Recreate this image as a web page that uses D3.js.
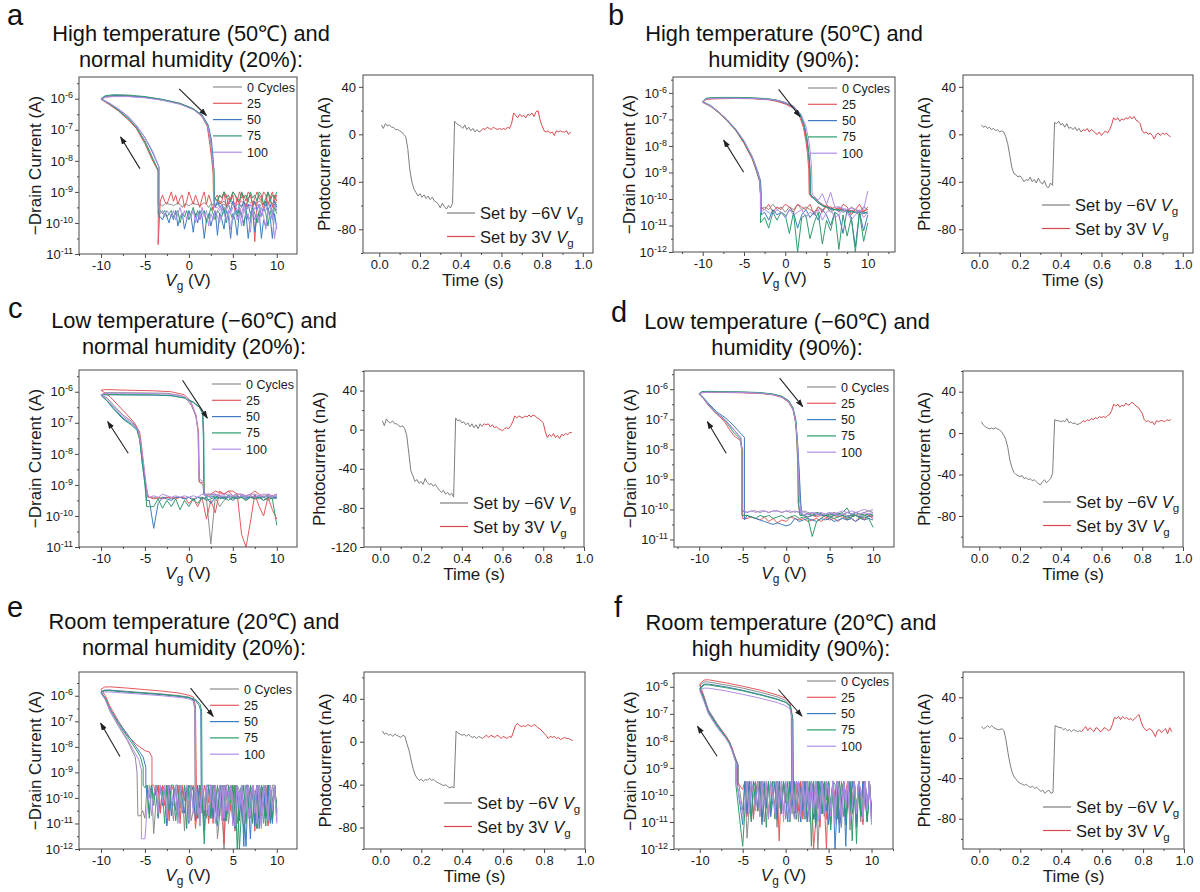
<!DOCTYPE html>
<html>
<head>
<meta charset="utf-8">
<script src="https://cdn.jsdelivr.net/npm/d3@7"></script>
<style>
body { margin: 0; background: #fff; }
</style>
</head>
<body>
<svg id="fig" width="1200" height="892"></svg>
<script>
// ---- shared ----
const cycleLabels = ["0 Cycles", "25", "50", "75", "100"];
const tStep = 0.01;     // photocurrent readings every 10 ms
const negStart = 0.01;  // "set by -6V" trace start (s)
const posStart = 0.50;  // "set by 3V" trace start (s)

// ---- panel a : 50 C / 20 % ----  values are log10(-Id); noise readings counted down from +10 V
const aStep = 0.25;
const aOn = [
  [[-3.5,-9.4],[-3.5,-8.3],[-4.2,-7.85],[-5,-7.35],[-6,-6.9],[-7,-6.6],[-8,-6.38],[-9,-6.18],[-10,-6.0],[-9.5,-5.93],[-8.5,-5.91],[-7,-5.92],[-5,-5.96],[-3,-6.04],[-1,-6.17],[0.5,-6.34],[1.5,-6.55],[2.2,-6.9],[2.5,-7.4],[2.7,-8.0],[2.8,-8.3],[2.85,-9.3]],
  [[-3.5,-10.7],[-3.45,-8.35],[-4.2,-7.95],[-5,-7.45],[-6,-6.95],[-7,-6.65],[-8,-6.4],[-9,-6.2],[-10,-6.02],[-9.5,-5.95],[-8.5,-5.9],[-7,-5.9],[-5,-5.95],[-3,-6.03],[-1,-6.15],[0.5,-6.33],[1.5,-6.58],[2.1,-6.9],[2.4,-7.5],[2.6,-7.95],[2.75,-8.4],[2.8,-9.1]],
  [[-3.4,-9.8],[-3.4,-8.2],[-4.1,-7.75],[-5,-7.25],[-6,-6.85],[-7,-6.55],[-8,-6.35],[-9,-6.15],[-10,-6.0],[-9.5,-5.92],[-8.5,-5.9],[-7,-5.91],[-5,-5.95],[-3,-6.03],[-1,-6.16],[0.5,-6.33],[1.5,-6.52],[2.2,-6.85],[2.55,-7.3],[2.75,-7.9],[2.85,-8.3],[2.9,-9.4]],
  [[-3.5,-9.7],[-3.5,-8.3],[-4.2,-7.9],[-5,-7.4],[-6,-6.92],[-7,-6.62],[-8,-6.38],[-9,-6.17],[-10,-6.0],[-9.5,-5.9],[-8.5,-5.87],[-7,-5.88],[-5,-5.93],[-3,-6.02],[-1,-6.15],[0.5,-6.32],[1.5,-6.54],[2.2,-6.88],[2.5,-7.35],[2.7,-8.0],[2.85,-8.3],[2.9,-9.2]],
  [[-3.4,-9.6],[-3.4,-8.2],[-4.1,-7.7],[-5,-7.25],[-6,-6.85],[-7,-6.55],[-8,-6.33],[-9,-6.15],[-10,-6.02],[-9.5,-5.95],[-8.5,-5.93],[-7,-5.93],[-5,-5.97],[-3,-6.05],[-1,-6.18],[0.5,-6.35],[1.5,-6.56],[2.2,-6.92],[2.5,-7.4],[2.7,-8.0],[2.8,-8.3],[2.85,-9.5]]
];
const aDown = [
  [-9.4,-9.45,-9.4,-9.35,-9.4,-9.45,-9.4,-9.4,-9.5,-9.4,-9.35,-9.4,-9.45,-9.4,-9.4,-9.35,-9.45,-9.4,-9.4,-9.5,-9.4,-9.35,-9.4,-9.45,-9.4,-9.4,-9.35,-9.4,-9.45,-9.4,-9.4,-9.5,-9.4,-9.35,-9.4,-9.45,-9.4,-9.4,-9.35,-9.4,-9.45,-9.4,-9.4,-9.5,-9.4,-9.35,-9.4,-9.45,-9.4,-9.4,-9.35,-9.4,-9.45,-9.4],
  [-9.3,-9.1,-9.5,-9.2,-9.0,-9.4,-9.6,-9.2,-9.1,-9.3,-10.6,-9.4,-9.1,-9.2,-9.5,-9.3,-9.0,-9.4,-9.2,-9.6,-9.1,-9.3,-9.2,-9.5,-9.0,-9.3,-9.4,-9.1,-9.2,-9.6,-9.3,-9.1,-9.4,-9.0,-9.2,-9.5,-9.3,-9.1,-9.4,-9.2,-9.0,-9.3,-9.5,-9.1,-9.2,-9.4,-9.1,-9.3,-9.0,-9.2,-9.4,-9.3,-9.1,-9.3],
  [-10.2,-9.7,-10.5,-9.8,-9.6,-10.1,-9.9,-10.5,-9.7,-9.8,-10.3,-9.6,-9.9,-10.5,-9.7,-10.0,-9.8,-9.6,-10.4,-9.9,-9.7,-10.5,-9.8,-9.6,-10.2,-9.9,-9.7,-10.4,-9.6,-9.8,-10.1,-9.7,-9.9,-10.5,-9.8,-9.6,-10.0,-9.7,-10.3,-9.8,-9.6,-9.9,-10.2,-9.7,-9.8,-10.1,-9.6,-9.9,-9.7,-10.0,-9.8,-9.7,-9.9,-9.8],
  [-9.7,-9.5,-9.9,-9.6,-10.1,-9.7,-9.5,-9.8,-9.6,-10.0,-9.7,-9.5,-9.8,-9.9,-9.6,-10.1,-9.7,-9.5,-9.8,-9.6,-9.9,-9.7,-9.6,-10.0,-9.5,-9.8,-9.7,-9.6,-9.9,-9.7,-9.5,-9.8,-10.0,-9.6,-9.7,-9.9,-9.6,-9.8,-9.5,-9.7,-9.9,-9.6,-9.8,-9.7,-10.0,-9.6,-9.7,-9.8,-9.6,-9.7,-9.8,-9.6,-9.7,-9.6],
  [-10.0,-10.5,-9.7,-9.9,-9.6,-10.2,-9.8,-9.5,-10.0,-9.7,-9.9,-9.6,-10.3,-9.7,-9.8,-9.5,-10.1,-9.7,-9.9,-9.6,-9.8,-10.2,-9.6,-9.9,-9.7,-9.5,-10.0,-9.8,-9.6,-9.9,-9.7,-10.1,-9.6,-9.8,-9.5,-9.9,-9.7,-10.0,-9.6,-9.8,-9.7,-9.9,-9.6,-9.8,-9.5,-9.7,-9.9,-9.6,-9.8,-9.7,-9.6,-9.8,-9.6,-9.7]
];
const aUp = [
  [-9.35,-9.3,-9.4,-9.3,-9.35,-9.3,-9.4,-9.35,-9.3,-9.35,-9.4,-9.3,-9.35,-9.3,-9.4,-9.35,-9.3,-9.35,-9.3,-9.4,-9.35,-9.3,-9.35,-9.4,-9.3,-9.35,-9.3,-9.4,-9.4],
  [-9.1,-9.3,-9.0,-9.2,-9.4,-9.1,-9.0,-9.3,-9.2,-9.0,-9.2,-9.4,-9.1,-9.0,-9.3,-9.1,-9.2,-9.0,-9.3,-9.1,-9.0,-9.2,-9.4,-9.1,-9.0,-9.2,-9.1,-9.3,-9.2],
  [-9.5,-9.3,-9.7,-9.4,-9.6,-9.3,-9.5,-9.8,-9.4,-9.6,-9.3,-9.5,-9.7,-9.4,-9.6,-9.3,-9.5,-9.4,-9.7,-9.5,-9.3,-9.6,-9.4,-9.5,-9.7,-9.4,-9.5,-9.3,-9.5],
  [-9.0,-9.2,-9.1,-9.3,-9.0,-9.2,-9.4,-9.1,-9.0,-9.3,-9.1,-9.2,-9.0,-9.3,-9.1,-9.2,-9.0,-9.3,-9.2,-9.1,-9.0,-9.3,-9.1,-9.2,-9.0,-9.2,-9.1,-9.3,-9.2],
  [-9.6,-9.4,-9.7,-9.5,-9.4,-9.6,-9.5,-9.8,-9.4,-9.6,-9.5,-9.7,-9.4,-9.5,-9.6,-9.4,-9.7,-9.5,-9.6,-9.4,-9.5,-9.7,-9.4,-9.6,-9.5,-9.4,-9.6,-9.5,-9.5]
];
const aArrows = [[[-1.1,-5.68],[2.0,-6.54]], [[-5.57,-8.25],[-7.77,-7.23]]];
const aNeg = [8,5,9,7,8,6,6,4,4,3,2,0,-2,-12,-30,-40,-46,-49,-52,-50,-53,-51,-54,-52,-55,-53,-56,-57,-59,-62,-58,-61,-63,-60,-62,-58,11,9,8,7,5,8,4,6,3,5,2,4,2,3];
const aPos = [3,5,4,6,5,4,6,5,4,5,4,5,4,6,5,9,18,16,14,17,15,16,14,17,16,18,15,19,20,12,7,3,2,3,1,2,-1,3,2,3,2,2,3,0,2];

// ---- panel b : 50 C / 90 % ----
const bStep = 0.5;
const bOn = [
  [[-3.0,-10.4],[-3.0,-9.8],[-3.1,-9.3],[-3.5,-8.9],[-4,-8.45],[-5,-7.85],[-6,-7.4],[-7,-7.05],[-8,-6.75],[-9,-6.5],[-10,-6.35],[-9.6,-6.24],[-9,-6.22],[-8,-6.2],[-6,-6.2],[-4,-6.21],[-2,-6.25],[-1,-6.3],[0,-6.4],[1,-6.55],[1.8,-6.85],[2.3,-7.3],[2.6,-7.8],[2.8,-8.3],[2.95,-8.9],[3.0,-9.8],[3.2,-9.9]],
  [[-3.0,-10.3],[-3.0,-9.8],[-3.1,-9.35],[-3.5,-8.95],[-4,-8.5],[-5,-7.9],[-6,-7.42],[-7,-7.07],[-8,-6.77],[-9,-6.52],[-10,-6.36],[-9.6,-6.25],[-9,-6.23],[-8,-6.22],[-6,-6.21],[-4,-6.22],[-2,-6.26],[-1,-6.32],[0,-6.42],[1,-6.58],[1.7,-6.85],[2.2,-7.3],[2.5,-7.8],[2.7,-8.3],[2.85,-8.9],[2.9,-9.8],[3.2,-9.95]],
  [[-2.9,-10.6],[-2.9,-9.8],[-3.0,-9.3],[-3.4,-8.9],[-4,-8.4],[-5,-7.82],[-6,-7.38],[-7,-7.03],[-8,-6.73],[-9,-6.48],[-10,-6.33],[-9.6,-6.22],[-9,-6.2],[-8,-6.19],[-6,-6.19],[-4,-6.2],[-2,-6.24],[-1,-6.29],[0,-6.38],[1,-6.52],[1.8,-6.8],[2.3,-7.25],[2.65,-7.8],[2.85,-8.3],[3.0,-8.9],[3.05,-9.8],[3.2,-9.9]],
  [[-3.0,-10.9],[-3.0,-9.8],[-3.1,-9.3],[-3.5,-8.9],[-4,-8.45],[-5,-7.86],[-6,-7.4],[-7,-7.05],[-8,-6.75],[-9,-6.5],[-10,-6.34],[-9.6,-6.2],[-9,-6.18],[-8,-6.17],[-6,-6.17],[-4,-6.18],[-2,-6.22],[-1,-6.27],[0,-6.36],[1,-6.5],[1.8,-6.78],[2.3,-7.2],[2.65,-7.75],[2.85,-8.25],[3.0,-8.9],[3.05,-9.8],[3.2,-9.9]],
  [[-3.0,-10.5],[-3.0,-9.8],[-3.1,-9.25],[-3.5,-8.85],[-4,-8.4],[-5,-7.8],[-6,-7.36],[-7,-7.02],[-8,-6.73],[-9,-6.5],[-10,-6.34],[-9.6,-6.23],[-9,-6.21],[-8,-6.2],[-6,-6.2],[-4,-6.21],[-2,-6.24],[-1,-6.28],[0,-6.36],[1,-6.5],[1.9,-6.8],[2.5,-7.25],[2.85,-7.8],[3.05,-8.3],[3.2,-8.9],[3.25,-9.8],[3.3,-9.85]]
];
const bDown = [
  [-10.4,-10.3,-10.5,-10.4,-10.3,-10.5,-10.4,-10.3,-10.4,-10.5,-10.3,-10.4,-10.3,-10.5,-10.4,-10.3,-10.4,-10.2,-10.4,-10.3,-10.5,-10.3,-10.4,-10.2,-10.4,-10.3],
  [-10.3,-10.5,-10.2,-10.4,-10.6,-10.3,-10.2,-10.5,-10.3,-10.4,-10.2,-10.5,-10.3,-10.6,-10.2,-10.4,-10.3,-10.2,-10.5,-10.3,-10.2,-10.4,-10.3,-10.5,-10.2,-10.4],
  [-10.6,-11.2,-10.5,-11.8,-10.7,-10.4,-11.3,-10.6,-10.5,-11.0,-10.6,-10.4,-10.8,-10.5,-10.7,-10.4,-10.6,-11.1,-10.5,-10.4,-10.7,-10.5,-10.6,-10.4,-10.8,-10.5],
  [-10.9,-11.6,-10.5,-12.0,-10.7,-11.4,-10.6,-11.9,-10.5,-11.2,-10.8,-11.7,-10.5,-10.9,-11.5,-10.6,-10.7,-12.0,-10.5,-11.3,-10.6,-10.5,-10.8,-10.5,-11.1,-10.7],
  [-10.5,-10.7,-10.4,-10.6,-10.8,-10.5,-10.4,-10.6,-10.7,-10.4,-10.5,-10.8,-10.4,-10.6,-10.5,-10.7,-10.4,-10.5,-10.6,-10.4,-10.7,-10.5,-10.4,-10.6,-10.5,-10.4]
];
const bUp = [
  [-10.5,-10.5,-10.45,-10.5,-10.45,-10.45,-10.4,-10.4,-10.4,-10.35,-10.3,-10.25,-10.15,-10.0],
  [-10.4,-10.45,-10.5,-10.4,-10.45,-10.4,-10.45,-10.35,-10.4,-10.3,-10.3,-10.2,-10.1,-9.95],
  [-10.5,-10.55,-10.5,-10.5,-10.45,-10.5,-10.4,-10.45,-10.4,-10.35,-10.3,-10.25,-10.1,-9.95],
  [-10.55,-10.5,-10.6,-10.5,-10.5,-10.45,-10.5,-10.4,-10.4,-10.4,-10.3,-10.25,-10.15,-10.0],
  [-9.7,-10.4,-10.45,-10.4,-10.35,-10.4,-10.35,-10.3,-10.3,-9.75,-10.2,-9.8,-10.05,-9.9]
];
const bArrows = [[[-0.8,-5.87],[1.8,-6.9]], [[-5.04,-8.99],[-7.46,-7.78]]];
const bNeg = [8,6,7,5,6,4,5,3,4,2,3,2,-2,-8,-18,-28,-33,-34,-36,-35,-37,-40,-38,-39,-36,-40,-38,-41,-37,-40,-42,-39,-44,-45,-41,-43,10,9,11,8,9,6,9,5,6,4,6,3,5,2];
const bPos = [2,4,3,5,2,4,3,1,0,2,-1,1,3,1,4,8,14,12,14,11,13,12,14,13,15,13,15,12,11,9,3,1,2,0,1,-1,-4,0,1,-1,1,0,1,-1,-2];

// ---- panel c : -60 C / 20 % ----
const cStep = 0.5;
const cOn = [
  [[-4.7,-9.4],[-4.9,-9.0],[-5.2,-8.4],[-5.5,-7.6],[-5.8,-7.2],[-6.5,-6.95],[-7.5,-6.75],[-8.5,-6.45],[-9.3,-6.2],[-10,-6.1],[-9.5,-6.03],[-8,-6.03],[-5,-6.04],[-2.5,-6.05],[-1,-6.12],[-0.3,-6.22],[0.3,-6.45],[0.8,-6.8],[1.05,-7.3],[1.15,-8.9],[1.6,-9.0],[1.7,-9.3]],
  [[-4.6,-9.4],[-4.9,-9.0],[-5.1,-8.5],[-5.4,-7.7],[-5.6,-7.3],[-6.2,-7.0],[-7,-6.75],[-8,-6.45],[-9,-6.15],[-10,-5.95],[-9.5,-5.93],[-7,-5.95],[-4,-5.97],[-2,-6.0],[-0.5,-6.1],[0.2,-6.3],[0.8,-6.75],[1.1,-7.3],[1.2,-8.9],[1.7,-8.95],[1.8,-9.3]],
  [[-4.8,-9.5],[-5.0,-8.9],[-5.3,-8.3],[-5.6,-7.5],[-5.9,-7.2],[-6.5,-7.05],[-7.5,-6.85],[-8.5,-6.55],[-9.3,-6.3],[-10,-6.1],[-9.5,-6.1],[-7,-6.1],[-4,-6.11],[-2,-6.13],[-0.5,-6.2],[0.5,-6.35],[1.2,-6.5],[1.55,-6.7],[1.65,-7.5],[1.7,-9.3]],
  [[-4.8,-9.7],[-5.0,-9.0],[-5.3,-8.3],[-5.6,-7.55],[-5.9,-7.25],[-6.5,-7.08],[-7.5,-6.88],[-8.5,-6.58],[-9.3,-6.3],[-10,-6.12],[-9.5,-6.08],[-7,-6.1],[-4,-6.1],[-2,-6.12],[-0.5,-6.2],[0.5,-6.33],[1.2,-6.5],[1.6,-6.7],[1.7,-7.4],[1.75,-9.3]],
  [[-4.7,-9.3],[-4.9,-8.9],[-5.2,-8.2],[-5.5,-7.6],[-5.8,-7.2],[-6.5,-7.0],[-7.5,-6.8],[-8.5,-6.5],[-9.3,-6.25],[-10,-6.1],[-9.5,-6.05],[-7,-6.05],[-4,-6.06],[-2,-6.08],[-0.5,-6.15],[0.3,-6.4],[0.8,-6.75],[1.05,-7.3],[1.15,-8.8],[1.65,-8.9],[1.75,-9.3]]
];
const cDown = [
  [-9.45,-9.4,-9.5,-9.4,-9.45,-9.4,-9.4,-9.5,-9.4,-9.4,-9.45,-9.4,-9.5,-9.7,-9.4,-10.9,-9.45,-9.4,-9.4,-9.45,-9.4,-9.45,-9.4,-9.4,-9.45,-9.4,-9.4,-9.45,-9.4,-9.4],
  [-10.1,-9.8,-9.4,-10.0,-9.7,-9.3,-10.2,-11.0,-10.6,-9.3,-9.2,-9.2,-9.3,-9.2,-9.9,-9.5,-10.1,-9.4,-9.7,-9.45,-9.6,-9.4,-9.4,-9.45,-9.4,-9.4,-9.45,-9.4,-9.45,-9.4],
  [-9.4,-9.45,-9.4,-9.5,-9.4,-9.45,-9.4,-9.45,-9.4,-9.4,-9.5,-9.4,-9.45,-9.4,-9.4,-9.6,-9.4,-9.45,-9.4,-9.5,-9.4,-9.45,-9.4,-9.4,-9.5,-9.45,-9.4,-9.6,-10.4,-9.5],
  [-10.3,-9.45,-9.4,-9.5,-9.4,-9.45,-9.4,-9.5,-9.4,-9.45,-9.4,-9.5,-9.4,-9.45,-9.4,-9.45,-9.5,-9.4,-9.6,-9.45,-9.7,-9.5,-9.8,-9.45,-9.7,-9.5,-9.75,-9.45,-9.7,-9.7],
  [-9.35,-9.4,-9.35,-9.4,-9.35,-9.4,-9.35,-9.4,-9.35,-9.4,-9.35,-9.4,-9.35,-9.4,-9.3,-9.4,-9.35,-9.3,-9.4,-9.35,-9.4,-9.35,-9.4,-9.35,-9.4,-9.35,-9.3,-9.4,-9.35,-9.4]
];
const cUp = [
  [-9.4,-9.35,-9.4,-9.35,-9.4,-9.4,-9.35,-9.4,-9.35,-9.4,-9.35,-9.4,-9.4,-9.35,-9.3,-9.3,-9.3],
  [-9.3,-9.35,-9.3,-9.4,-9.3,-9.2,-9.3,-9.35,-9.3,-9.3,-9.35,-9.2,-9.3,-9.25,-9.2,-9.3,-9.35],
  [-9.4,-9.4,-9.35,-9.4,-9.4,-9.35,-9.4,-9.4,-9.35,-9.4,-9.4,-9.35,-9.4,-9.4,-9.35,-9.4,-9.35],
  [-9.35,-9.4,-9.35,-9.4,-9.35,-9.4,-9.4,-9.35,-9.4,-9.35,-9.4,-9.35,-9.4,-9.35,-9.4,-9.35,-9.4],
  [-9.3,-9.35,-9.3,-9.3,-9.35,-9.3,-9.3,-9.35,-9.3,-9.3,-9.35,-9.3,-9.3,-9.35,-9.3,-9.3,-9.3]
];
const cArrows = [[[-0.72,-5.63],[2.1,-6.85]], [[-6.9,-7.98],[-9.24,-6.96]]];
const cNeg = [9,4,11,8,7,9,6,6,4,3,4,1,-6,-24,-42,-47,-53,-51,-55,-53,-56,-50,-54,-56,-55,-58,-56,-59,-62,-64,-62,-66,-64,-67,-65,-69,12,9,10,7,8,5,7,3,6,2,5,1,6,3];
const cPos = [4,6,5,6,3,5,2,3,1,0,-1,1,2,1,4,8,14,12,14,13,12,14,13,15,13,15,14,12,11,9,7,-2,-8,-5,-7,-4,-8,-6,-9,-5,-6,-4,-5,-3,-3];

// ---- panel d : -60 C / 90 % ----
const dStep = 0.5;
const dOn = [
  [[-5.1,-10.05],[-5.1,-8.2],[-5.2,-7.6],[-5.5,-7.52],[-6,-7.35],[-6.5,-7.18],[-7,-7.02],[-7.5,-6.9],[-8,-6.8],[-9,-6.5],[-9.5,-6.3],[-10,-6.15],[-9.7,-6.1],[-9,-6.09],[-7,-6.1],[-5,-6.11],[-3,-6.13],[-1.5,-6.18],[-0.5,-6.26],[0.3,-6.42],[0.8,-6.68],[1.1,-7.1],[1.3,-7.8],[1.45,-8.6],[1.55,-9.5],[1.75,-10.1]],
  [[-5.0,-10.3],[-5.0,-8.0],[-5.3,-7.7],[-6,-7.55],[-6.5,-7.35],[-7,-7.12],[-7.5,-6.95],[-8,-6.83],[-9,-6.52],[-9.5,-6.32],[-10,-6.17],[-9.7,-6.12],[-9,-6.1],[-7,-6.11],[-5,-6.12],[-3,-6.14],[-1.5,-6.19],[-0.5,-6.27],[0.3,-6.44],[0.8,-6.7],[1.1,-7.15],[1.25,-7.9],[1.35,-8.7],[1.4,-9.8],[1.6,-10.2]],
  [[-4.8,-10.35],[-4.8,-7.6],[-5.3,-7.45],[-6,-7.22],[-6.5,-7.08],[-7,-6.95],[-7.5,-6.85],[-8,-6.75],[-9,-6.45],[-9.5,-6.28],[-10,-6.14],[-9.7,-6.09],[-9,-6.08],[-7,-6.09],[-5,-6.1],[-3,-6.12],[-1.5,-6.17],[-0.5,-6.25],[0.3,-6.4],[0.8,-6.66],[1.1,-7.05],[1.3,-7.7],[1.45,-8.5],[1.6,-9.3],[1.75,-10.2]],
  [[-5.1,-10.2],[-5.1,-8.0],[-5.3,-7.65],[-6,-7.45],[-6.5,-7.25],[-7,-7.05],[-7.5,-6.92],[-8,-6.8],[-9,-6.5],[-9.5,-6.3],[-10,-6.15],[-9.7,-6.08],[-9,-6.07],[-7,-6.08],[-5,-6.09],[-3,-6.11],[-1.5,-6.16],[-0.5,-6.23],[0.3,-6.38],[0.8,-6.62],[1.1,-7.0],[1.25,-7.7],[1.35,-8.6],[1.4,-9.8],[1.6,-10.2]],
  [[-5.1,-10.0],[-5.1,-8.1],[-5.25,-7.6],[-5.6,-7.5],[-6,-7.35],[-6.5,-7.2],[-7,-7.04],[-7.5,-6.92],[-8,-6.8],[-9,-6.5],[-9.5,-6.3],[-10,-6.16],[-9.7,-6.11],[-9,-6.1],[-7,-6.1],[-5,-6.11],[-3,-6.13],[-1.5,-6.18],[-0.5,-6.26],[0.3,-6.42],[0.8,-6.68],[1.1,-7.1],[1.3,-7.8],[1.4,-8.6],[1.5,-9.6],[1.7,-10.1]]
];
const dDown = [
  [-10.1,-10.05,-10.1,-10.15,-10.1,-10.15,-10.1,-10.2,-10.15,-10.1,-10.15,-10.2,-10.15,-10.1,-10.15,-10.1,-10.05,-10.1,-10.05,-10.1,-10.05,-10.1,-10.05,-10.05,-10.1,-10.05,-10.1,-10.05,-10.05,-10.1],
  [-10.3,-10.2,-10.35,-10.25,-10.4,-10.3,-10.35,-10.25,-10.4,-10.3,-10.35,-10.3,-10.4,-10.3,-10.35,-10.4,-10.3,-10.35,-10.3,-10.25,-10.4,-10.35,-10.45,-10.3,-10.4,-10.25,-10.35,-10.3,-10.25,-10.3],
  [-10.35,-10.3,-10.35,-10.3,-10.4,-10.3,-10.35,-10.3,-10.35,-10.4,-10.3,-10.35,-10.3,-10.4,-10.35,-10.3,-10.35,-10.4,-10.3,-10.5,-10.55,-10.5,-10.45,-10.5,-10.45,-10.4,-10.35,-10.3,-10.25,-10.2],
  [-10.6,-10.3,-10.25,-10.3,-10.2,-10.25,-10.3,-10.2,-10.25,-10.3,-10.25,-10.2,-10.3,-10.4,-10.9,-10.3,-10.25,-10.3,-10.2,-10.25,-10.3,-10.2,-10.25,-10.3,-10.2,-10.25,-10.2,-10.3,-10.25,-10.2],
  [-10.0,-10.05,-10.0,-10.05,-10.1,-10.05,-10.1,-10.05,-10.1,-10.15,-10.1,-10.15,-10.1,-10.15,-10.1,-10.15,-10.1,-10.05,-10.1,-10.05,-10.05,-10.1,-10.05,-10.05,-10.1,-10.05,-10.05,-10.1,-10.05,-10.1]
];
const dUp = [
  [-10.15,-10.2,-10.15,-10.2,-10.15,-10.2,-10.2,-10.15,-10.2,-10.15,-10.2,-10.2,-10.15,-10.2,-10.2,-10.15,-10.2],
  [-10.25,-10.2,-10.3,-10.25,-10.2,-10.25,-10.3,-10.2,-10.25,-10.2,-10.3,-10.25,-10.2,-10.25,-10.2,-10.25,-10.2],
  [-10.2,-10.25,-10.2,-10.25,-10.2,-10.2,-10.25,-10.2,-10.15,-10.2,-10.25,-10.2,-10.2,-10.15,-10.2,-10.25,-10.2],
  [-10.2,-10.15,-10.2,-10.15,-10.1,-10.2,-9.95,-10.1,-10.15,-10.2,-10.15,-10.2,-10.15,-10.1,-10.2,-10.15,-10.2],
  [-10.1,-10.15,-10.1,-10.15,-10.1,-10.15,-10.1,-10.15,-10.2,-10.15,-10.1,-10.15,-10.2,-10.15,-10.1,-10.15,-10.2]
];
const dArrows = [[[-0.75,-5.63],[1.9,-6.58]], [[-6.9,-8.13],[-9.06,-7.08]]];
const dNeg = [11,8,6,5,4,5,4,5,4,3,1,-2,-6,-14,-26,-33,-38,-40,-41,-42,-41,-44,-43,-45,-44,-46,-45,-47,-49,-50,-47,-45,-48,-46,-44,-39,13,12,12,11,12,11,14,10,11,9,10,8,9,10];
const dPos = [10,12,11,13,12,14,13,15,14,16,15,16,15,17,18,22,28,26,28,25,27,26,29,27,28,30,28,26,25,22,19,13,11,12,10,11,8,12,11,12,12,11,13,12,13];

// ---- panel e : 20 C / 20 % ----
const eStep = 0.25;
const eOn = [
  [[-5.8,-10.7],[-5.9,-9.0],[-6.1,-8.4],[-7,-7.75],[-8,-7.2],[-9,-6.6],[-9.5,-6.15],[-10,-5.9],[-9.6,-5.8],[-9,-5.78],[-7,-5.83],[-5,-5.88],[-3,-5.93],[-1,-6.0],[0,-6.05],[0.5,-6.15],[0.65,-6.5],[0.7,-9.5],[0.8,-10.4]],
  [[-4.2,-9.5],[-4.2,-8.4],[-4.5,-8.2],[-5,-8.15],[-6,-7.9],[-7,-7.55],[-8,-7.0],[-9,-6.4],[-9.5,-6.0],[-10,-5.75],[-9.6,-5.66],[-9,-5.65],[-7,-5.7],[-5,-5.76],[-3,-5.82],[-1,-5.9],[0,-5.98],[0.5,-6.05],[0.75,-6.4],[0.85,-9.5]],
  [[-4.9,-9.5],[-4.9,-8.8],[-5.2,-8.4],[-6,-8.0],[-7,-7.5],[-8,-7.05],[-9,-6.5],[-9.5,-6.1],[-10,-5.85],[-9.6,-5.78],[-9,-5.78],[-7,-5.85],[-5,-5.9],[-3,-5.96],[-1,-6.03],[0,-6.08],[0.8,-6.2],[1.2,-6.4],[1.35,-6.6],[1.4,-9.5],[1.7,-10.5]],
  [[-5.2,-9.5],[-5.2,-8.8],[-5.5,-8.4],[-6,-8.1],[-7,-7.6],[-8,-7.1],[-9,-6.5],[-9.5,-6.1],[-10,-5.85],[-9.6,-5.8],[-9,-5.8],[-7,-5.86],[-5,-5.9],[-3,-5.95],[-1,-6.02],[0,-6.07],[0.8,-6.15],[1.3,-6.35],[1.45,-6.6],[1.5,-9.5],[1.8,-10.6]],
  [[-5.4,-11.6],[-5.4,-8.9],[-5.7,-8.5],[-6.2,-8.2],[-7,-7.7],[-8,-7.15],[-9,-6.55],[-9.5,-6.15],[-10,-5.9],[-9.6,-5.85],[-9,-5.85],[-7,-5.9],[-5,-5.95],[-3,-6.0],[-1,-6.07],[0,-6.12],[0.5,-6.2],[0.7,-6.5],[0.75,-9.5]]
];
const eDown = [
  [-10.4,-9.5,-9.5,-10.9,-10.2,-9.5,-11.0,-9.8,-9.5,-10.6,-10.8,-9.5,-10.1,-9.5,-9.5,-11.2,-10.5,-9.7,-9.5,-10.9,-9.5,-10.3,-11.0,-9.5,-9.9,-9.5,-10.7,-11.6,-9.5,-10.2,-9.5,-9.5,-10.8,-10.0,-9.5,-11.1,-9.6,-9.5,-10.5,-10.9,-9.5,-9.8,-11.3,-9.5,-10.4,-9.5,-9.5,-10.9,-10.1,-9.5,-11.0,-9.7,-9.5,-10.6,-9.5,-10.2,-11.4,-9.5,-10.0,-9.5,-10.8,-10.5,-10.7],
  [-10.9,-9.5,-10.3,-9.5,-11.1,-9.6,-9.5,-10.7,-10.0,-9.5,-11.3,-9.5,-9.8,-10.6,-9.5,-10.9,-9.5,-10.2,-11.0,-9.5,-9.7,-10.5,-9.5,-9.5,-11.8,-10.1,-9.5,-10.8,-9.5,-10.4,-9.5,-11.0,-9.9,-9.5,-10.6,-9.5,-10.3,-11.2,-9.5,-9.8,-10.7,-9.5,-10.1,-9.5,-11.0,-9.5,-10.5,-9.7,-9.5,-10.9,-9.5,-10.3,-9.5,-10.6,-9.5,-9.9,-9.5],
  [-10.6,-9.5,-11.0,-10.2,-9.5,-10.8,-9.5,-9.9,-11.2,-9.5,-10.4,-9.5,-11.6,-10.0,-9.5,-11.9,-9.5,-10.7,-9.5,-10.3,-11.0,-9.5,-9.8,-10.9,-9.5,-10.5,-9.5,-11.1,-10.2,-9.5,-10.8,-9.6,-9.5,-11.3,-9.5,-10.4,-9.5,-10.9,-9.7,-9.5,-11.0,-9.5,-10.6,-10.1,-9.5,-10.8,-9.5,-9.9,-10.7,-9.5,-11.1,-9.5,-10.3,-9.5,-10.8,-9.5,-10.0,-9.5,-10.6],
  [-10.5,-9.5,-10.8,-9.6,-9.5,-11.1,-10.3,-9.5,-10.7,-9.5,-9.9,-11.0,-9.5,-10.4,-9.5,-11.4,-9.5,-10.1,-12.0,-9.5,-10.6,-9.5,-9.8,-10.9,-9.5,-10.5,-9.5,-11.0,-10.2,-9.5,-10.7,-9.5,-9.5,-11.8,-10.0,-9.5,-10.8,-9.5,-10.4,-9.7,-9.5,-11.2,-9.5,-10.6,-9.5,-10.1,-10.9,-9.5,-9.5,-10.5,-9.5,-11.0,-9.8,-9.5,-10.7,-9.5,-10.3,-9.5,-10.8,-9.5,-9.6],
  [-11.0,-9.5,-10.4,-9.5,-10.9,-9.7,-9.5,-11.2,-10.1,-9.5,-10.6,-9.5,-9.9,-10.8,-9.5,-11.0,-9.5,-10.3,-9.5,-10.7,-11.1,-9.5,-9.8,-10.5,-9.5,-10.9,-9.5,-10.2,-11.0,-9.5,-9.6,-10.7,-9.5,-10.4,-9.5,-11.1,-10.0,-9.5,-10.6,-9.5,-10.9,-9.5,-9.8,-10.5,-9.5,-11.0,-9.5,-10.3,-9.7,-9.5,-10.8,-9.5,-10.2,-9.5,-10.6,-9.5,-9.9,-10.7,-9.5,-10.4,-11.6]
];
const eUp = [
  [-10.5,-9.5,-10.9,-10.1,-9.5,-10.7,-9.5,-11.1,-9.8,-9.5,-10.4,-9.5,-10.8,-9.5,-10.2,-11.3,-9.5,-10.6,-9.5,-9.9,-11.0,-9.5,-10.5,-9.5,-12.0,-10.3,-9.5,-10.8,-9.5,-10.1,-9.5,-10.9,-9.7,-10.5,-9.5,-10.6,-10.8],
  [-10.8,-9.5,-10.4,-9.5,-11.0,-9.9,-9.5,-10.6,-9.5,-11.2,-10.3,-9.5,-10.7,-9.5,-9.8,-10.9,-9.5,-10.5,-9.5,-11.3,-10.0,-9.5,-10.6,-9.5,-10.9,-9.7,-9.5,-10.4,-9.5,-11.0,-9.5,-10.2,-9.5,-10.7,-9.5,-10.5,-10.6],
  [-10.6,-9.5,-10.2,-11.0,-9.5,-10.7,-9.5,-9.9,-10.8,-9.5,-11.1,-9.5,-10.4,-9.5,-11.9,-10.3,-9.5,-10.9,-9.5,-11.2,-9.7,-9.5,-10.6,-9.5,-10.9,-10.1,-9.5,-10.5,-9.5,-10.8,-9.5,-10.6,-10.5],
  [-10.7,-9.5,-10.3,-9.5,-10.9,-9.8,-9.5,-10.5,-9.5,-11.2,-10.1,-9.5,-10.6,-9.5,-11.0,-9.5,-10.4,-12.0,-9.5,-10.8,-9.5,-10.2,-9.5,-10.9,-9.6,-9.5,-10.7,-9.5,-10.4,-9.5,-10.8,-10.6,-10.7],
  [-10.9,-9.5,-10.5,-9.5,-10.8,-10.1,-9.5,-10.6,-9.5,-11.0,-9.8,-9.5,-10.7,-9.5,-10.3,-10.9,-9.5,-10.5,-9.5,-11.1,-10.0,-9.5,-10.6,-9.5,-10.8,-9.5,-10.2,-10.9,-9.5,-10.4,-9.5,-10.7,-9.5,-10.5,-9.5,-10.6,-10.6]
];
const eArrows = [[[0.19,-5.7],[2.77,-6.81]], [[-7.84,-8.38],[-10.04,-7.07]]];
const eNeg = [10,7,8,6,7,5,7,6,5,4,6,5,-2,-8,-17,-25,-31,-34,-36,-35,-37,-35,-36,-34,-36,-35,-37,-38,-39,-40,-41,-40,-42,-43,-42,-43,10,8,7,6,7,5,7,5,4,5,3,5,4,3];
const ePos = [3,5,6,4,6,5,4,6,5,3,5,4,3,5,4,9,15,17,15,14,15,14,16,15,14,16,15,13,12,10,8,6,3,5,4,5,3,4,2,3,4,3,3,2,1];

// ---- panel f : 20 C / 90 % ----
const fStep = 0.25;
const fOn = [
  [[-5.5,-9.5],[-5.5,-8.9],[-6.0,-8.5],[-6.5,-8.05],[-7,-7.8],[-8,-7.35],[-9,-6.85],[-9.5,-6.35],[-10,-5.95],[-9.5,-5.82],[-9,-5.82],[-7,-5.93],[-5,-6.05],[-3,-6.2],[-1,-6.37],[0,-6.5],[0.5,-6.65],[0.65,-7.0],[0.7,-9.5]],
  [[-5.7,-9.5],[-5.7,-8.8],[-6.2,-8.3],[-6.6,-8.0],[-7,-7.8],[-8,-7.4],[-9,-6.9],[-9.5,-6.4],[-10,-5.9],[-9.5,-5.75],[-9,-5.74],[-7,-5.85],[-5,-5.98],[-3,-6.12],[-1,-6.3],[0,-6.42],[0.5,-6.6],[0.7,-6.9],[0.75,-9.5]],
  [[-5.6,-9.7],[-5.6,-8.9],[-6.1,-8.45],[-6.5,-8.1],[-7,-7.85],[-8,-7.4],[-9,-6.9],[-9.5,-6.45],[-10,-6.05],[-9.5,-5.9],[-9,-5.9],[-7,-6.0],[-5,-6.13],[-3,-6.28],[-1,-6.45],[0,-6.57],[0.5,-6.7],[0.8,-7.1],[0.85,-9.6]],
  [[-5.8,-9.6],[-5.8,-8.8],[-6.2,-8.4],[-6.6,-8.05],[-7,-7.85],[-8,-7.45],[-9,-6.95],[-9.5,-6.5],[-10,-6.1],[-9.5,-5.93],[-9,-5.93],[-7,-6.03],[-5,-6.15],[-3,-6.3],[-1,-6.47],[0,-6.58],[0.5,-6.72],[0.85,-7.2],[0.9,-9.6]],
  [[-5.7,-9.6],[-5.7,-8.9],[-6.2,-8.4],[-6.6,-8.1],[-7,-7.9],[-8,-7.5],[-9,-7.0],[-9.5,-6.55],[-10,-6.15],[-9.5,-6.05],[-9,-6.05],[-7,-6.15],[-5,-6.28],[-3,-6.42],[-1,-6.58],[0,-6.7],[0.5,-6.82],[0.75,-7.2],[0.8,-9.6]]
];
const fDown = [
  [-10.7,-9.5,-10.9,-10.2,-9.5,-11.0,-9.5,-10.5,-9.8,-9.5,-11.3,-9.5,-10.6,-9.5,-10.1,-10.9,-9.5,-10.4,-9.5,-11.1,-9.7,-9.5,-10.8,-9.5,-10.3,-12.0,-9.5,-10.6,-9.5,-10.0,-10.9,-9.5,-10.5,-9.5,-11.0,-9.8,-9.5,-10.7,-9.5,-10.2,-10.9,-9.5,-10.4,-9.5,-11.2,-9.6,-9.5,-10.8,-9.5,-10.3,-11.0,-9.5,-10.6,-9.5,-9.9,-10.8,-9.5,-10.5,-11.6,-9.5,-10.6],
  [-10.9,-9.5,-10.5,-9.5,-11.1,-10.0,-9.5,-10.7,-9.5,-10.3,-10.9,-9.5,-9.8,-10.8,-9.5,-11.0,-9.5,-10.4,-9.5,-10.7,-9.5,-12.0,-10.2,-9.5,-11.2,-9.5,-10.6,-9.5,-10.0,-10.8,-9.5,-10.6,-9.5,-11.0,-9.7,-9.5,-10.5,-9.5,-10.9,-10.1,-9.5,-10.7,-9.5,-11.7,-9.5,-10.4,-9.9,-9.5,-10.8,-9.5,-10.2,-11.0,-9.5,-10.6,-9.5,-10.9,-9.6,-9.5,-10.8,-9.5,-9.8],
  [-10.8,-9.5,-11.0,-9.7,-9.5,-10.7,-9.5,-11.2,-10.1,-9.5,-10.6,-9.5,-11.9,-9.5,-10.4,-11.4,-9.5,-10.8,-9.5,-10.2,-11.1,-9.5,-9.9,-10.7,-9.5,-10.5,-9.5,-10.9,-9.5,-10.3,-11.0,-9.5,-10.6,-9.8,-9.5,-10.8,-9.5,-10.4,-9.5,-11.0,-10.0,-9.5,-10.7,-9.5,-10.9,-9.5,-10.2,-10.8,-9.5,-10.5,-9.5,-11.1,-9.5,-10.6,-9.7,-9.5,-10.9,-9.5,-10.7,-9.5,-11.1],
  [-10.6,-9.5,-11.0,-9.5,-10.3,-10.8,-9.5,-11.8,-9.5,-10.7,-9.9,-9.5,-11.1,-9.5,-10.5,-9.5,-10.6,-10.9,-9.5,-11.3,-9.5,-10.2,-9.5,-10.7,-9.8,-9.5,-10.9,-9.5,-11.9,-9.5,-10.4,-10.9,-9.5,-10.6,-9.5,-10.8,-9.6,-9.5,-11.0,-9.5,-10.3,-9.5,-10.7,-10.0,-9.5,-10.9,-9.5,-10.5,-9.5,-11.2,-9.7,-9.5,-10.8,-9.5,-10.4,-9.5,-11.0,-10.2,-9.5,-10.6,-11.9],
  [-11.0,-9.5,-10.6,-9.5,-10.9,-9.8,-9.5,-10.7,-9.5,-10.4,-11.0,-9.5,-10.2,-9.5,-10.8,-9.7,-9.5,-11.1,-9.5,-10.5,-9.9,-9.5,-10.6,-9.5,-10.9,-10.1,-9.5,-10.7,-9.5,-11.0,-9.5,-10.3,-9.5,-10.8,-9.6,-9.5,-10.6,-9.5,-10.9,-10.2,-9.5,-11.0,-9.5,-10.5,-9.5,-10.7,-9.8,-9.5,-10.9,-9.5,-10.4,-9.5,-10.8,-9.5,-10.6,-10.0,-9.5,-10.7,-9.5,-10.5,-10.7]
];
const fUp = [
  [-10.8,-9.5,-10.4,-9.5,-11.0,-9.9,-9.5,-10.7,-9.5,-10.3,-10.9,-9.5,-10.6,-9.5,-11.2,-9.7,-9.5,-10.5,-9.5,-10.8,-10.1,-9.5,-10.6,-9.5,-10.9,-9.5,-11.0,-10.3,-9.5,-10.7,-9.5,-10.4,-9.5,-10.8,-9.6,-10.5,-10.7],
  [-10.6,-9.5,-10.9,-10.2,-9.5,-10.7,-9.5,-11.0,-9.5,-10.4,-9.8,-9.5,-10.8,-9.5,-10.6,-11.1,-9.5,-10.3,-9.5,-10.7,-9.5,-10.9,-9.7,-9.5,-10.5,-9.5,-11.0,-12.0,-9.5,-10.6,-9.5,-10.2,-10.9,-9.5,-10.6,-9.5,-10.8],
  [-10.9,-9.5,-10.5,-9.5,-10.8,-10.0,-9.5,-11.1,-9.5,-10.6,-9.5,-10.3,-11.0,-9.5,-10.7,-9.5,-10.4,-12.0,-9.5,-10.8,-9.5,-10.6,-9.8,-9.5,-10.9,-9.5,-11.2,-10.2,-9.5,-10.7,-9.5,-10.5,-9.5,-11.0,-9.7,-10.6,-10.7],
  [-10.7,-9.5,-11.0,-9.5,-10.4,-10.8,-9.5,-10.6,-9.5,-11.7,-9.5,-10.2,-10.8,-9.5,-10.5,-9.5,-10.9,-9.6,-9.5,-11.0,-10.3,-9.5,-10.7,-9.5,-10.6,-9.5,-11.1,-9.9,-9.5,-10.5,-9.5,-10.8,-9.5,-10.4,-9.5,-10.9,-10.8],
  [-11.1,-9.5,-10.6,-9.5,-10.8,-9.9,-9.5,-10.7,-9.5,-10.4,-11.0,-9.5,-10.5,-9.5,-10.9,-10.1,-9.5,-10.6,-9.5,-10.8,-9.7,-9.5,-10.7,-9.5,-10.4,-11.0,-9.5,-10.6,-9.5,-10.3,-9.5,-10.8,-9.5,-10.6,-9.5,-10.7,-10.9]
];
const fArrows = [[[-0.84,-6.1],[1.9,-7.09]], [[-7.98,-8.57],[-10.27,-7.46]]];
const fNeg = [11,9,10,12,10,12,10,9,8,8,9,7,-2,-15,-26,-34,-39,-41,-44,-45,-46,-47,-46,-48,-49,-48,-50,-49,-51,-53,-52,-55,-53,-52,-55,-54,12,11,10,10,8,9,7,8,6,8,7,6,7,6];
const fPos = [6,9,11,7,10,8,6,10,9,6,7,10,9,7,8,13,20,19,21,18,21,19,20,18,19,17,19,21,23,16,11,8,7,9,8,5,1,7,8,5,7,9,4,10,6];

// ---- styles / layout ----
const cycleColors = ["#8c8c8c", "#e4585c", "#3d7cc0", "#2f9d6c", "#b28de6"];
const negColor = "#7d7d7d", posColor = "#d8484c";
const frameColor = "#4a4a4a", inkColor = "#1a1a1a";
const fontFamily = "'Liberation Sans', Arial, Helvetica, sans-serif";

const panels = [
  { letter: "a", lx: 7, ly: 25, title: ["High temperature (50℃) and", "normal humidity (20%):"], tx: 191, ty: 41,
    on: aOn, down: aDown, up: aUp, step: aStep, arrows: aArrows, neg: aNeg, pos: aPos,
    tBox: { x0: 79, x1: 297, y0: 77, y1: 254 }, tV: [-12.5, 12.3], tLog: [-11, -5.3], tLeg: [134, 10],
    pBox: { x0: 363, x1: 593, y0: 75, y1: 253 }, pT: [-0.08, 1.05], pI: [-100, 50], pLeg: [84, -40], pTitleDx: -33 },
  { letter: "b", lx: 608, ly: 25, title: ["High temperature (50℃) and", "humidity (90%):"], tx: 784, ty: 41,
    on: bOn, down: bDown, up: bUp, step: bStep, arrows: bArrows, neg: bNeg, pos: bPos,
    tBox: { x0: 673, x1: 895, y0: 77, y1: 252 }, tV: [-13.6, 13.3], tLog: [-12, -5.4], tLeg: [135, 11],
    pBox: { x0: 963, x1: 1193, y0: 75, y1: 253 }, pT: [-0.08, 1.05], pI: [-100, 50], pLeg: [79, -48], pTitleDx: -33 },
  { letter: "c", lx: 8, ly: 318, title: ["Low temperature (−60℃) and", "normal humidity (20%):"], tx: 194, ty: 328,
    on: cOn, down: cDown, up: cUp, step: cStep, arrows: cArrows, neg: cNeg, pos: cPos,
    tBox: { x0: 79, x1: 297, y0: 370, y1: 547 }, tV: [-12.5, 12.3], tLog: [-11, -5.3], tLeg: [133, 14],
    pBox: { x0: 364, x1: 584, y0: 371, y1: 547 }, pT: [-0.08, 1.0], pI: [-120, 60], pLeg: [76, -44], pTitleDx: -39 },
  { letter: "d", lx: 611, ly: 322, title: ["Low temperature (−60℃) and", "humidity (90%):"], tx: 787, ty: 329,
    on: dOn, down: dDown, up: dUp, step: dStep, arrows: dArrows, neg: dNeg, pos: dPos,
    tBox: { x0: 674, x1: 894, y0: 370, y1: 547 }, tV: [-12.9, 12.4], tLog: [-11.25, -5.36], tLeg: [133, 17],
    pBox: { x0: 963, x1: 1183, y0: 371, y1: 547 }, pT: [-0.08, 1.0], pI: [-110, 60], pLeg: [80, -45], pTitleDx: -33 },
  { letter: "e", lx: 7, ly: 617, title: ["Room temperature (20℃) and", "normal humidity (20%):"], tx: 194, ty: 629,
    on: eOn, down: eDown, up: eUp, step: eStep, arrows: eArrows, neg: eNeg, pos: ePos,
    tBox: { x0: 79, x1: 297, y0: 672, y1: 849 }, tV: [-12.5, 12.3], tLog: [-12, -5.07], tLeg: [131, 17],
    pBox: { x0: 364, x1: 585, y0: 672, y1: 849 }, pT: [-0.08, 1.0], pI: [-100, 65], pLeg: [80, -46], pTitleDx: -33 },
  { letter: "f", lx: 614, ly: 617, title: ["Room temperature (20℃) and", "high humidity (90%):"], tx: 791, ty: 630,
    on: fOn, down: fDown, up: fUp, step: fStep, arrows: fArrows, neg: fNeg, pos: fPos,
    tBox: { x0: 674, x1: 893, y0: 673, y1: 849 }, tV: [-13, 12.5], tLog: [-12, -5.49], tLeg: [133, 8],
    pBox: { x0: 963, x1: 1184, y0: 672, y1: 849 }, pT: [-0.08, 1.0], pI: [-110, 65], pLeg: [80, -42], pTitleDx: -33 }
];

const svg = d3.select("#fig").attr("font-family", fontFamily);
const defs = svg.append("defs");
defs.append("marker")
  .attr("id", "arrowHead")
  .attr("viewBox", "0 0 10 7")
  .attr("refX", 9).attr("refY", 3.5)
  .attr("markerWidth", 8).attr("markerHeight", 5.6)
  .attr("markerUnits", "userSpaceOnUse")
  .attr("orient", "auto")
  .append("path").attr("d", "M0,0L10,3.5L0,7z").attr("fill", "#222");

function styleAxis(sel, size) {
  sel.select(".domain").remove();
  sel.selectAll(".tick line").attr("stroke", frameColor);
  sel.selectAll(".tick text").attr("fill", inkColor).attr("font-size", size || 13);
}

function frameAndClip(g, b, id) {
  defs.append("clipPath").attr("id", id).append("rect")
    .attr("x", b.x0).attr("y", b.y0).attr("width", b.x1 - b.x0).attr("height", b.y1 - b.y0);
  g.append("rect").attr("x", b.x0).attr("y", b.y0).attr("width", b.x1 - b.x0).attr("height", b.y1 - b.y0)
    .attr("fill", "none").attr("stroke", frameColor).attr("stroke-width", 1);
}

function vgLabel(g, x, y, size, text) {
  const t = g.append("text").attr("x", x).attr("y", y).attr("font-size", size).attr("fill", inkColor);
  if (text) t.append("tspan").text(text);
  t.append("tspan").attr("font-style", "italic").text("V");
  t.append("tspan").attr("font-size", size * 0.7).attr("dy", 4).text("g");
  return t;
}

function drawTransfer(p) {
  const b = p.tBox;
  const g = svg.append("g");
  const x = d3.scaleLinear().domain(p.tV).range([b.x0, b.x1]);
  const y = d3.scaleLog().domain([10 ** p.tLog[0], 10 ** p.tLog[1]]).range([b.y1, b.y0]);
  const clipId = "clipT" + p.letter;

  const line = d3.line().x(d => x(d[0])).y(d => y(10 ** d[1]));
  const curves = g.append("g").attr("clip-path", `url(#${clipId})`);
  p.on.forEach((on, i) => {
    // sweep +10 V -> -10 V (noise floor, then turn-on), then back to +10 V
    const pts = p.down[i].map((v, k) => [10 - k * p.step, v])
      .concat(on)
      .concat(p.up[i].map((v, k) => [10 - k * p.step, v]).reverse());
    curves.append("path").attr("d", line(pts))
      .attr("fill", "none").attr("stroke", cycleColors[i]).attr("stroke-width", 1);
  });
  frameAndClip(g, b, clipId);

  // x axis
  const xMajor = [-10, -5, 0, 5, 10];
  const xMinor = [-12.5, -7.5, -2.5, 2.5, 7.5, 12.5].filter(v => v >= p.tV[0] && v <= p.tV[1]);
  g.append("g").attr("transform", `translate(0,${b.y1})`)
    .call(d3.axisBottom(x).tickValues(xMinor).tickSize(2).tickFormat(""))
    .call(styleAxis);
  g.append("g").attr("transform", `translate(0,${b.y1})`)
    .call(d3.axisBottom(x).tickValues(xMajor).tickSize(4).tickPadding(3).tickFormat(d => String(d)))
    .call(styleAxis);

  // y axis (decades)
  const exps = d3.range(Math.ceil(p.tLog[0] - 1e-9), Math.floor(p.tLog[1]) + 1);
  const yMinor = exps.map(e => e + 0.5).concat([exps[0] - 0.5])
    .filter(e => e > p.tLog[0] && e < p.tLog[1]).map(e => 10 ** e);
  g.append("g").attr("transform", `translate(${b.x0},0)`)
    .call(d3.axisLeft(y).tickValues(yMinor).tickSize(2).tickFormat(""))
    .call(styleAxis);
  const ya = g.append("g").attr("transform", `translate(${b.x0},0)`)
    .call(d3.axisLeft(y).tickValues(exps.map(e => 10 ** e)).tickSize(4).tickPadding(2).tickFormat(""))
    .call(styleAxis);
  ya.selectAll(".tick text").each(function (d) {
    const t = d3.select(this);
    t.append("tspan").text("10");
    t.append("tspan").attr("font-size", 9).attr("dy", -5).text(String(Math.round(Math.log10(d))));
  });

  // axis titles
  const cx = (b.x0 + b.x1) / 2;
  const xt = vgLabel(g, cx, b.y1 + 32, 17);
  xt.append("tspan").attr("dy", -4).text(" (V)");
  xt.attr("text-anchor", "middle");
  g.append("text")
    .attr("transform", `translate(${b.x0 - 38},${(b.y0 + b.y1) / 2}) rotate(-90)`)
    .attr("text-anchor", "middle").attr("font-size", 17).attr("fill", inkColor)
    .text("−Drain Current (A)");

  // sweep-direction arrows
  p.arrows.forEach(a => {
    g.append("line")
      .attr("x1", x(a[0][0])).attr("y1", y(10 ** a[0][1]))
      .attr("x2", x(a[1][0])).attr("y2", y(10 ** a[1][1]))
      .attr("stroke", "#222").attr("stroke-width", 1.1)
      .attr("marker-end", "url(#arrowHead)");
  });

  // legend
  const lg = g.append("g").attr("transform", `translate(${b.x0 + p.tLeg[0]},${b.y0 + p.tLeg[1]})`);
  cycleLabels.forEach((lab, i) => {
    const yy = i * 16.3;
    lg.append("line").attr("x1", 0).attr("x2", 29).attr("y1", yy).attr("y2", yy)
      .attr("stroke", cycleColors[i]).attr("stroke-width", 1.2);
    lg.append("text").attr("x", 34).attr("y", yy).attr("dy", "0.36em")
      .attr("font-size", 12.5).attr("fill", inkColor).text(lab);
  });
}

function drawPhoto(p) {
  const b = p.pBox;
  const g = svg.append("g");
  const x = d3.scaleLinear().domain(p.pT).range([b.x0, b.x1]);
  const y = d3.scaleLinear().domain(p.pI).range([b.y1, b.y0]);
  const clipId = "clipP" + p.letter;

  const line = d3.line().x(d => x(d[0])).y(d => y(d[1]));
  const tr = g.append("g").attr("clip-path", `url(#${clipId})`);
  tr.append("path").attr("d", line(p.neg.map((v, k) => [negStart + k * tStep, v])))
    .attr("fill", "none").attr("stroke", negColor).attr("stroke-width", 1);
  tr.append("path").attr("d", line(p.pos.map((v, k) => [posStart + k * tStep, v])))
    .attr("fill", "none").attr("stroke", posColor).attr("stroke-width", 1);
  frameAndClip(g, b, clipId);

  const xMajor = d3.range(0, 6).map(k => k * 0.2);
  const xMinor = d3.range(0, 5).map(k => 0.1 + k * 0.2);
  g.append("g").attr("transform", `translate(0,${b.y1})`)
    .call(d3.axisBottom(x).tickValues(xMinor).tickSize(2).tickFormat(""))
    .call(styleAxis);
  g.append("g").attr("transform", `translate(0,${b.y1})`)
    .call(d3.axisBottom(x).tickValues(xMajor).tickSize(4).tickPadding(3).tickFormat(d3.format(".1f")))
    .call(styleAxis);

  const yMajor = d3.range(-160, 80, 40).filter(v => v >= p.pI[0] && v <= p.pI[1]);
  const yMinor = d3.range(-140, 80, 40).filter(v => v >= p.pI[0] && v <= p.pI[1]);
  g.append("g").attr("transform", `translate(${b.x0},0)`)
    .call(d3.axisLeft(y).tickValues(yMinor).tickSize(2).tickFormat(""))
    .call(styleAxis);
  g.append("g").attr("transform", `translate(${b.x0},0)`)
    .call(d3.axisLeft(y).tickValues(yMajor).tickSize(4).tickPadding(3).tickFormat(d => String(d)))
    .call(styleAxis);

  g.append("text").attr("x", x(0.46)).attr("y", b.y1 + 33).attr("text-anchor", "middle")
    .attr("font-size", 17).attr("fill", inkColor).text("Time (s)");
  g.append("text")
    .attr("transform", `translate(${b.x0 + p.pTitleDx},${(b.y0 + b.y1) / 2}) rotate(-90)`)
    .attr("text-anchor", "middle").attr("font-size", 17).attr("fill", inkColor)
    .text("Photocurrent (nA)");

  const lg = g.append("g").attr("transform", `translate(${b.x0 + p.pLeg[0]},${b.y1 + p.pLeg[1]})`);
  [["Set by −6V ", negColor], ["Set by 3V ", posColor]].forEach((row, i) => {
    const yy = i * 23.5;
    lg.append("line").attr("x1", 0).attr("x2", 28).attr("y1", yy).attr("y2", yy)
      .attr("stroke", row[1]).attr("stroke-width", 1.2);
    vgLabel(lg, 33, yy + 6, 16.5, row[0]);
  });
}

panels.forEach(p => {
  svg.append("text").attr("x", p.lx).attr("y", p.ly).attr("font-size", 29).attr("fill", "#111").text(p.letter);
  p.title.forEach((line, i) => {
    svg.append("text").attr("x", p.tx).attr("y", p.ty + i * 25.5).attr("text-anchor", "middle")
      .attr("font-size", 21.8).attr("fill", "#111").text(line);
  });
  drawTransfer(p);
  drawPhoto(p);
});
</script>
</body>
</html>
